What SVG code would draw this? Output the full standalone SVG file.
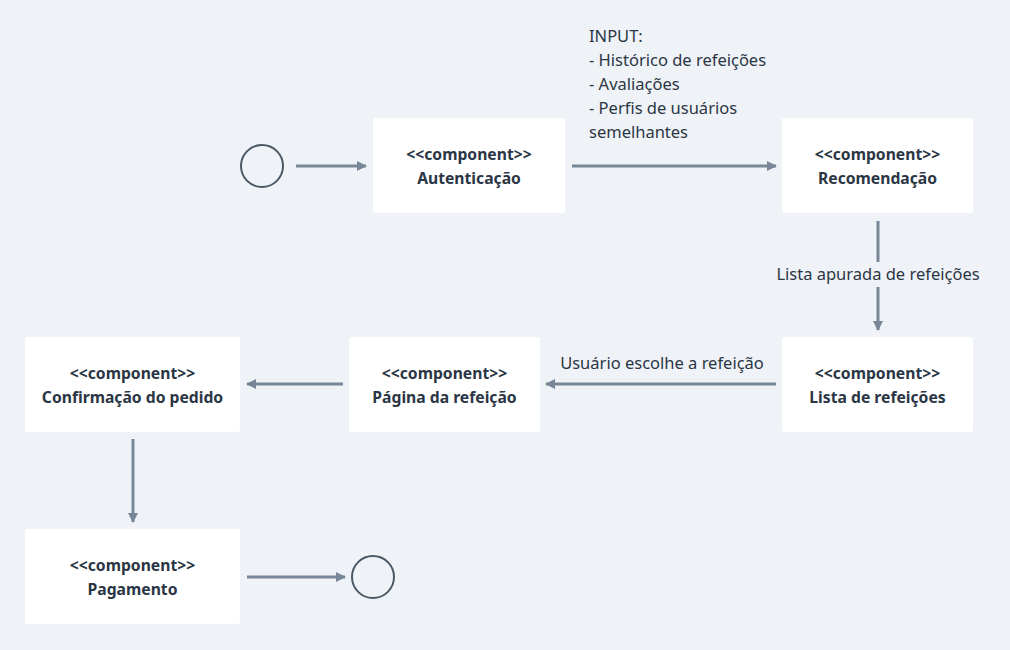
<svg xmlns="http://www.w3.org/2000/svg" width="1010" height="650" viewBox="0 0 1010 650">
<defs>
<style>
.node rect{fill:#ffffff}
.nt{font-family:"Noto Sans","Liberation Sans",sans-serif;font-size:15.7px;font-weight:bold;fill:#2b3645;text-anchor:middle}
.el{font-family:"Noto Sans","Liberation Sans",sans-serif;font-size:16.5px;fill:#2b3645}
.c{stroke:#778797;stroke-width:3;fill:none}
.circ{fill:none;stroke:#4a5866;stroke-width:2}
</style>
<marker id="ah" markerWidth="10" markerHeight="10" refX="9" refY="5" orient="auto" markerUnits="userSpaceOnUse">
<path d="M0,0 L10,5 L0,10 z" fill="#778797"/>
</marker>
</defs>
<rect width="1010" height="650" fill="#eff3f7"/>
<g id="start"><circle class="circ" cx="262" cy="166" r="21"/></g>
<g id="end"><circle class="circ" cx="373" cy="577" r="21"/></g>
<g id="autenticacao" class="node"><rect x="373" y="118" width="192" height="95" rx="3"/><text class="nt" x="469" y="160">&lt;&lt;component&gt;&gt;</text><text class="nt" x="469" y="184">Autenticação</text></g>
<g id="recomendacao" class="node"><rect x="782" y="118" width="191" height="95" rx="3"/><text class="nt" x="877.5" y="160">&lt;&lt;component&gt;&gt;</text><text class="nt" x="877.5" y="184">Recomendação</text></g>
<g id="lista" class="node"><rect x="782" y="337" width="191" height="95" rx="3"/><text class="nt" x="877.5" y="379">&lt;&lt;component&gt;&gt;</text><text class="nt" x="877.5" y="403">Lista de refeições</text></g>
<g id="pagina" class="node"><rect x="349" y="337" width="191" height="95" rx="3"/><text class="nt" x="444.5" y="379">&lt;&lt;component&gt;&gt;</text><text class="nt" x="444.5" y="403">Página da refeição</text></g>
<g id="confirmacao" class="node"><rect x="25" y="337" width="215" height="95" rx="3"/><text class="nt" x="132.5" y="379">&lt;&lt;component&gt;&gt;</text><text class="nt" x="132.5" y="403">Confirmação do pedido</text></g>
<g id="pagamento" class="node"><rect x="25" y="529" width="215" height="95" rx="3"/><text class="nt" x="132.5" y="571">&lt;&lt;component&gt;&gt;</text><text class="nt" x="132.5" y="595">Pagamento</text></g>
<g id="connectors">
<line class="c" x1="296" y1="166" x2="366" y2="166" marker-end="url(#ah)"/>
<line class="c" x1="572" y1="166" x2="776" y2="166" marker-end="url(#ah)"/>
<line class="c" x1="878" y1="221" x2="878" y2="262"/>
<line class="c" x1="878" y1="287" x2="878" y2="330" marker-end="url(#ah)"/>
<line class="c" x1="776" y1="384" x2="546" y2="384" marker-end="url(#ah)"/>
<line class="c" x1="343" y1="384" x2="247" y2="384" marker-end="url(#ah)"/>
<line class="c" x1="133" y1="439" x2="133" y2="522" marker-end="url(#ah)"/>
<line class="c" x1="247" y1="577" x2="345" y2="577" marker-end="url(#ah)"/>
<text class="el" x="589" y="42">INPUT:</text>
<text class="el" x="589" y="66">- Histórico de refeições</text>
<text class="el" x="589" y="90">- Avaliações</text>
<text class="el" x="589" y="114">- Perfis de usuários</text>
<text class="el" x="589" y="138">semelhantes</text>
<text class="el" x="878" y="280" text-anchor="middle">Lista apurada de refeições</text>
<text class="el" x="662" y="369" text-anchor="middle">Usuário escolhe a refeição</text>
</g>
</svg>
